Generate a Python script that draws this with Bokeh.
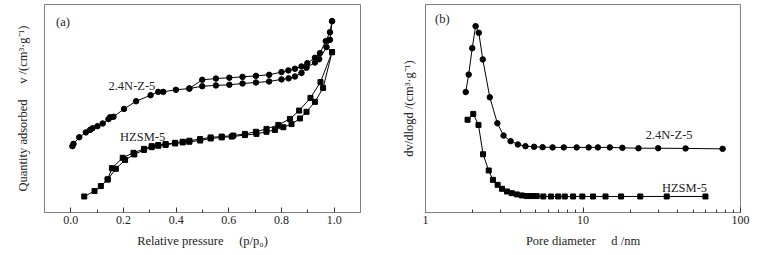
from bokeh.plotting import figure
from bokeh.layouts import row
from bokeh.models import Range1d, FixedTicker
from bokeh.embed import file_html
from bokeh.resources import INLINE
from bokeh.core.properties import value

# ---------------- Panel (a): N2 isotherms ----------------
nz_ads_p = [0.006, 0.010, 0.032, 0.057, 0.073, 0.082, 0.101, 0.121, 0.143, 0.149, 0.162,
            0.202, 0.248, 0.303, 0.332, 0.351, 0.399, 0.450, 0.499, 0.551, 0.602, 0.652,
            0.703, 0.753, 0.800, 0.827, 0.851, 0.876, 0.895, 0.927, 0.943, 0.971, 0.984, 0.992]
nz_ads_v = [31.9, 33.0, 36.2, 38.5, 39.7, 40.5, 41.5, 42.8, 44.9, 45.8, 46.0,
            49.8, 53.5, 56.4, 58.0, 58.0, 59.0, 59.6, 60.7, 61.1, 61.4, 62.0,
            62.5, 63.0, 64.0, 64.5, 65.4, 67.1, 69.6, 72.1, 73.7, 79.5, 83.0, 92.0]
nz_des_p = [0.992, 0.984, 0.968, 0.946, 0.927, 0.898, 0.876, 0.851, 0.826, 0.800, 0.753,
            0.703, 0.652, 0.602, 0.551, 0.499, 0.450]
nz_des_v = [92.0, 86.7, 82.4, 76.6, 74.4, 71.8, 70.2, 69.1, 68.3, 67.5, 66.2,
            65.7, 65.2, 64.8, 64.4, 63.8, 59.6]

hz_ads_p = [0.051, 0.090, 0.114, 0.140, 0.171, 0.206, 0.241, 0.278, 0.307, 0.332, 0.360,
            0.396, 0.425, 0.450, 0.491, 0.531, 0.573, 0.611, 0.661, 0.705, 0.743, 0.775,
            0.807, 0.838, 0.870, 0.895, 0.927, 0.958, 0.992]
hz_ads_v = [7.7, 10.3, 12.7, 15.9, 21.0, 25.3, 27.9, 30.1, 31.4, 32.1, 32.5,
            33.2, 33.7, 34.0, 34.6, 35.6, 36.1, 36.5, 37.2, 37.8, 38.8, 39.7,
            41.0, 42.5, 45.2, 48.4, 53.2, 59.9, 77.1]
hz_des_p = [0.992, 0.948, 0.910, 0.867, 0.832, 0.788, 0.743, 0.703, 0.661, 0.617, 0.573,
            0.531, 0.491, 0.450, 0.425, 0.396, 0.360, 0.332, 0.307, 0.278, 0.238, 0.197,
            0.156, 0.140]
hz_des_v = [77.1, 62.7, 55.1, 49.0, 45.0, 42.1, 40.2, 38.8, 37.8, 37.0, 36.5,
            36.1, 35.3, 34.5, 34.0, 33.5, 32.9, 32.4, 31.9, 30.6, 28.7, 26.3,
            21.3, 15.9]

a_ticks = [0.0, 0.2, 0.4, 0.6, 0.8, 1.0]
a_minor = [0.1, 0.3, 0.5, 0.7, 0.9]
a_tick_labels = ["0.0", "0.2", "0.4", "0.6", "0.8", "1.0"]

# ---------------- Panel (b): pore size distribution ----------------
nz_d = [1.80, 1.88, 1.98, 2.08, 2.18, 2.31, 2.56, 2.86, 3.13, 3.47, 3.86, 4.31, 4.89,
        5.54, 6.41, 7.55, 9.12, 10.86, 12.43, 14.80, 17.78, 22.5, 30.0, 44.8, 77.0]
nz_dv = [57.9, 66.3, 79.0, 89.6, 86.4, 73.6, 55.4, 42.9, 37.0, 34.3, 32.7, 31.9, 31.6,
         31.4, 31.3, 31.3, 31.3, 31.3, 31.3, 31.3, 31.1, 30.9, 30.9, 30.8, 30.6]
hz_d = [1.85, 2.01, 2.17, 2.32, 2.52, 2.68, 2.87, 3.06, 3.29, 3.53, 3.80, 4.09, 4.39,
        4.72, 5.08, 5.60, 6.26, 6.96, 7.66, 8.65, 9.90, 11.57, 13.90, 17.45, 23.1, 34.0, 59.9]
hz_dv = [44.6, 47.4, 42.1, 28.0, 20.2, 15.7, 13.3, 11.4, 10.1, 9.3, 8.7, 8.2, 7.9,
         7.9, 7.9, 7.7, 7.7, 7.7, 7.7, 7.7, 7.7, 7.7, 7.7, 7.7, 7.7, 7.7, 7.7]

b_ticks = [1, 10, 100]
b_minor = [2, 3, 4, 5, 6, 7, 8, 9, 20, 30, 40, 50, 60, 70, 80, 90]
b_tick_labels = ["1", "10", "100"]

FONT = "Liberation Serif"
GRAY = "#808080"


def style(p, xticks, xminor, xlabels):
    p.outline_line_color = GRAY
    p.outline_line_width = 1
    p.xgrid.visible = False
    p.ygrid.visible = False
    p.background_fill_color = "white"
    p.border_fill_color = "white"
    xa = p.xaxis[0]
    xa.ticker = FixedTicker(ticks=xticks, minor_ticks=xminor)
    xa.major_label_overrides = {t: l for t, l in zip(xticks, xlabels)}
    xa.axis_line_color = GRAY
    xa.major_tick_line_color = "#333333"
    xa.minor_tick_line_color = "#333333"
    xa.major_tick_in = 5
    xa.major_tick_out = 0
    xa.minor_tick_in = 3
    xa.minor_tick_out = 0
    xa.major_label_standoff = 3
    xa.major_label_text_font = FONT
    xa.major_label_text_font_size = "12px"
    xa.major_label_text_color = "#222222"
    xa.axis_label_text_font = FONT
    xa.axis_label_text_font_size = "12.5px"
    xa.axis_label_text_font_style = "normal"
    xa.axis_label_text_color = "#222222"
    xa.axis_label_standoff = 7
    ya = p.yaxis[0]
    ya.ticker = FixedTicker(ticks=[])
    ya.axis_line_color = GRAY
    ya.major_tick_line_color = None
    ya.minor_tick_line_color = None
    ya.axis_label_text_font = FONT
    ya.axis_label_text_font_size = "12.5px"
    ya.axis_label_text_font_style = "normal"
    ya.axis_label_text_color = "#222222"


NB = "\u00a0"

pa = figure(frame_width=316, frame_height=208, min_border_left=44, min_border_right=25,
            min_border_top=4, min_border_bottom=43,
            x_range=Range1d(-0.1, 1.1), y_range=Range1d(0, 100),
            output_backend="svg", toolbar_location=None)
pa.xaxis.axis_label = "Relative pressure" + NB * 5 + "(p/p\u2080)"
pa.yaxis.axis_label = "Quantity adsorbed" + NB * 5 + "v /(cm\u00b3\u00b7g\u207b\u00b9)"
style(pa, a_ticks, a_minor, a_tick_labels)
pa.yaxis[0].axis_label_standoff = 15

for xs, ys in [(nz_ads_p, nz_ads_v), (nz_des_p, nz_des_v)]:
    pa.line(xs, ys, line_color="black", line_width=1)
    pa.scatter(xs, ys, marker="circle", size=5.5, fill_color="black", line_color="black")
for xs, ys in [(hz_ads_p, hz_ads_v), (hz_des_p, hz_des_v)]:
    pa.line(xs, ys, line_color="black", line_width=1)
    pa.scatter(xs, ys, marker="square", size=5, fill_color="black", line_color="black")

pa.text(x=[-0.056], y=[91.5], text=["(a)"], text_font=value(FONT), text_font_size="12.5px",
        text_align="left", text_baseline="middle", text_color="#222222")
pa.text(x=[0.143], y=[61.0], text=["2.4N-Z-5"], text_font=value(FONT), text_font_size="12.5px",
        text_align="left", text_baseline="middle", text_color="#222222")
pa.text(x=[0.187], y=[36.2], text=["HZSM-5"], text_font=value(FONT), text_font_size="12.5px",
        text_align="left", text_baseline="middle", text_color="#222222")

pb = figure(frame_width=315, frame_height=208, min_border_left=40, min_border_right=25,
            min_border_top=4, min_border_bottom=43,
            x_axis_type="log", x_range=Range1d(1, 100), y_range=Range1d(0, 100),
            output_backend="svg", toolbar_location=None)
pb.xaxis.axis_label = "Pore diameter" + NB * 5 + "d /nm"
pb.yaxis.axis_label = "dv/dlogd /(cm\u00b3\u00b7g\u207b\u00b9)"
style(pb, b_ticks, b_minor, b_tick_labels)
pb.yaxis[0].axis_label_standoff = 10

pb.line(nz_d, nz_dv, line_color="black", line_width=1)
pb.scatter(nz_d, nz_dv, marker="circle", size=5.5, fill_color="black", line_color="black")
pb.line(hz_d, hz_dv, line_color="black", line_width=1)
pb.scatter(hz_d, hz_dv, marker="square", size=5, fill_color="black", line_color="black")

pb.text(x=[1.15], y=[93.1], text=["(b)"], text_font=value(FONT), text_font_size="12.5px",
        text_align="left", text_baseline="middle", text_color="#222222")
pb.text(x=[25.0], y=[37.5], text=["2.4N-Z-5"], text_font=value(FONT), text_font_size="12.5px",
        text_align="left", text_baseline="middle", text_color="#222222")
pb.text(x=[31.7], y=[11.9], text=["HZSM-5"], text_font=value(FONT), text_font_size="12.5px",
        text_align="left", text_baseline="middle", text_color="#222222")

layout = row(pa, pb)
open("out.html", "w").write(file_html(layout, INLINE))
